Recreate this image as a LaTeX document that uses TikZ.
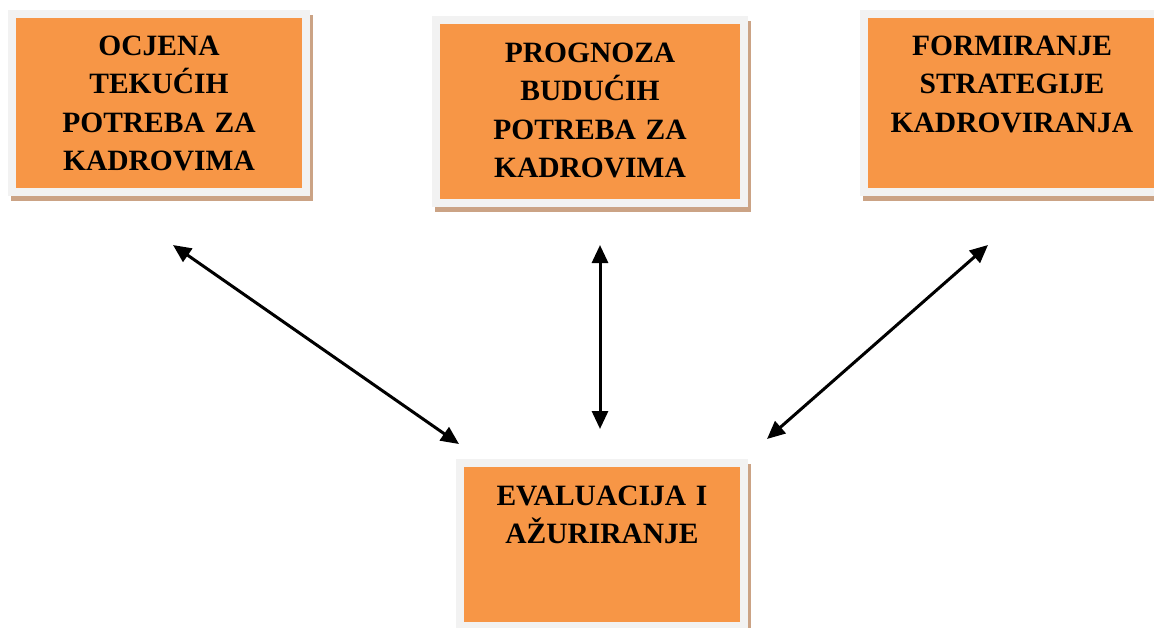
\documentclass[tikz,border=0pt]{standalone}
\usepackage{fontspec}
\setmainfont{Liberation Serif}
\usetikzlibrary{arrows.meta,shadows}

\definecolor{boxorange}{RGB}{247,150,70}
\definecolor{framegray}{RGB}{242,242,242}
\definecolor{shadowtan}{RGB}{203,163,133}

\begin{document}
\begin{tikzpicture}[x=1pt,y=-1pt,<->,>={Triangle[length=18pt,width=16pt]},
  line width=3pt,
  task box/.style={fill=boxorange,draw=framegray,line width=8pt,
    inner xsep=0pt,inner ysep=0pt,text width=260pt,align=center,
    font=\fontsize{29.5}{38.5}\selectfont\bfseries,
    drop shadow={shadow xshift=3pt,shadow yshift=-5pt,opacity=1,
      fill=shadowtan,draw=shadowtan,line width=8pt}}]

  \useasboundingbox (0,0) rectangle (1154,627);

  \node[task box,minimum width=294pt,text height=41pt,text depth=137pt] (ocjena) at (159,103)
    {OCJENA\\TEKUĆIH\\POTREBA ZA\\KADROVIMA};
  \node[task box,minimum width=308pt,text height=42pt,text depth=141pt] (prognoza) at (590,111.5)
    {PROGNOZA\\BUDUĆIH\\POTREBA ZA\\KADROVIMA};
  \node[task box,minimum width=296pt,text height=41pt,text depth=137pt] (formiranje) at (1012,103)
    {FORMIRANJE\\STRATEGIJE\\KADROVIRANJA};
  \node[task box,minimum width=284pt,text height=42pt,text depth=121pt] (evaluacija) at (602,544.5)
    {EVALUACIJA I\\AŽURIRANJE};

  \coordinate (o1) at (173,245);
  \coordinate (e1) at (459,444);
  \coordinate (p1) at (600,245);
  \coordinate (e2) at (600,429);
  \coordinate (f1) at (988,245);
  \coordinate (e3) at (767,439);

  \draw (o1) -- (e1);
  \draw (p1) -- (e2);
  \draw (f1) -- (e3);

\end{tikzpicture}
\end{document}
